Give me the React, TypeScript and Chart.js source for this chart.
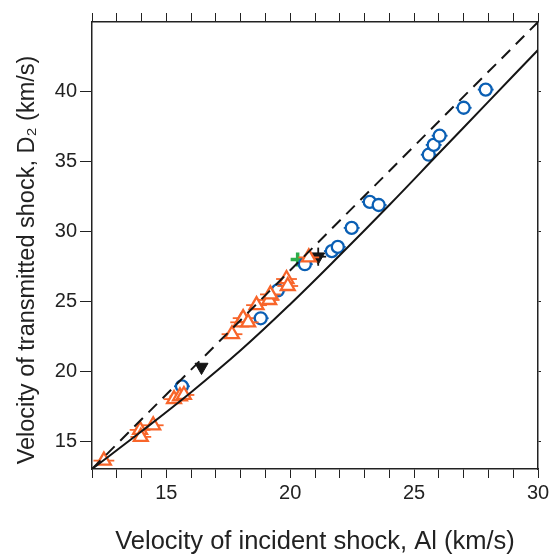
import React, { useEffect, useRef } from 'react';
import { Chart, registerables } from 'chart.js';

Chart.register(...registerables);

// Axis ranges and tick labels
const X_MIN = 12;
const X_MAX = 30;
const Y_MIN = 13;
const Y_MAX = 45;
const xLabelTicks = [15, 20, 25, 30];
const yLabelTicks = [15, 20, 25, 30, 35, 40];

const X_TITLE = 'Velocity of incident shock, Al (km/s)';
const Y_TITLE = 'Velocity of transmitted shock, D\u2082 (km/s)';

// Solid model curve
const solidX = [12, 14, 16, 18, 20, 22, 24, 26, 28, 30];
const solidY = [13.0, 15.7, 18.5, 21.5, 24.8, 28.3, 31.9, 35.6, 39.3, 43.0];

// Dashed straight line
const dashedX = [12, 30];
const dashedY = [13, 45];

// Blue open circles
const blueX = [15.63, 18.81, 19.5, 20.59, 21.68, 21.92, 22.48, 23.21, 23.57, 25.59, 25.79, 26.03, 27.0, 27.89];
const blueY = [18.92, 23.79, 25.79, 27.66, 28.6, 28.9, 30.26, 32.12, 31.9, 35.5, 36.2, 36.86, 38.86, 40.16];
const blueXErr = [0.32, 0.32, 0.32, 0.32, 0.32, 0.32, 0.32, 0.32, 0.32, 0.32, 0.32, 0.32, 0.32, 0.32];

// Orange open triangles
const orangeX = [12.48, 13.94, 13.97, 14.47, 15.31, 15.55, 15.71, 17.65, 18.0, 18.1, 18.3, 18.64, 19.15, 19.2, 19.85, 19.9, 20.75];
const orangeY = [13.6, 15.8, 15.3, 16.13, 18.0, 18.2, 18.3, 22.65, 23.5, 23.8, 23.5, 24.73, 25.1, 25.5, 26.6, 26.1, 28.15];
const orangeXErr = [0.42, 0.42, 0.42, 0.42, 0.42, 0.42, 0.42, 0.42, 0.42, 0.42, 0.42, 0.42, 0.42, 0.42, 0.42, 0.42, 0.42];

// Green cross
const greenX = [20.3];
const greenY = [28.0];

// Black filled down-triangles
const blackX = [16.42, 21.13];
const blackY = [20.3, 28.2];
const blackXErr = [0.15, 0.32];
const blackYErr = [0.2, 0.65];

const FONT = "'Liberation Sans', Arial, Helvetica, sans-serif";
const TEXT = '#222';
const AXIS = '#222';

const pts = (xs: number[], ys: number[]) => xs.map((x, i) => ({ x, y: ys[i] }));

const errorBarPlugin = {
  id: 'errorBars',
  beforeDatasetDraw(chart: any, args: any) {
    const ds = chart.data.datasets[args.index];
    if (!ds.xErr && !ds.yErr) return;
    const xs = chart.scales.x;
    const ys = chart.scales.y;
    const ctx = chart.ctx;
    ctx.save();
    ctx.strokeStyle = ds.borderColor;
    ctx.lineWidth = ds.errWidth || 1.8;
    ds.data.forEach((p: any, i: number) => {
      const px = xs.getPixelForValue(p.x);
      const py = ys.getPixelForValue(p.y);
      if (ds.xErr) {
        const e = ds.xErr[i];
        ctx.beginPath();
        ctx.moveTo(xs.getPixelForValue(p.x - e), py);
        ctx.lineTo(xs.getPixelForValue(p.x + e), py);
        ctx.stroke();
      }
      if (ds.yErr) {
        const e = ds.yErr[i];
        ctx.beginPath();
        ctx.moveTo(px, ys.getPixelForValue(p.y - e));
        ctx.lineTo(px, ys.getPixelForValue(p.y + e));
        ctx.stroke();
      }
    });
    ctx.restore();
  },
};

// Rotated y-axis title, centred where the original places it
const yTitlePlugin = {
  id: 'yTitle',
  afterDraw(chart: any) {
    const ctx = chart.ctx;
    ctx.save();
    ctx.translate(28, 260);
    ctx.rotate(-Math.PI / 2);
    ctx.font = `23.5px ${FONT}`;
    ctx.fillStyle = TEXT;
    ctx.textAlign = 'center';
    ctx.textBaseline = 'middle';
    ctx.fillText(Y_TITLE, 0, 0);
    ctx.restore();
  },
};

export default function App() {
  const ref = useRef<HTMLCanvasElement | null>(null);

  useEffect(() => {
    if (!ref.current) return;
    const gridCommon = {
      drawOnChartArea: false,
      drawTicks: true,
      color: AXIS,
      lineWidth: 1,
    };
    const chart = new Chart(ref.current, {
      type: 'scatter',
      data: {
        datasets: [
          {
            type: 'line',
            data: pts(solidX, solidY),
            borderColor: '#151515',
            borderWidth: 2,
            pointRadius: 0,
            tension: 0.4,
            fill: false,
          } as any,
          {
            type: 'line',
            data: pts(dashedX, dashedY),
            borderColor: '#151515',
            borderWidth: 2,
            borderDash: [12, 8],
            pointRadius: 0,
            fill: false,
          } as any,
          {
            data: pts(orangeX, orangeY),
            xErr: orangeXErr,
            pointStyle: 'triangle',
            pointRadius: 8,
            borderWidth: 2.3,
            borderColor: '#f8652a',
            backgroundColor: '#ffffff',
          } as any,
          {
            data: pts(blueX, blueY),
            xErr: blueXErr,
            pointStyle: 'circle',
            pointRadius: 6,
            borderWidth: 2.3,
            borderColor: '#0a5fb4',
            backgroundColor: '#ffffff',
          } as any,
          {
            data: pts(greenX, greenY),
            pointStyle: 'cross',
            pointRadius: 7,
            borderWidth: 3.5,
            borderColor: '#2cae4a',
            backgroundColor: '#2cae4a',
          } as any,
          {
            data: pts(blackX, blackY),
            xErr: blackXErr,
            yErr: blackYErr,
            pointStyle: 'triangle',
            rotation: 180,
            pointRadius: 7.5,
            borderWidth: 1,
            borderColor: '#151515',
            backgroundColor: '#151515',
          } as any,
        ],
      },
      options: {
        animation: false,
        responsive: false,
        devicePixelRatio: 1,
        layout: { padding: 0 },
        plugins: {
          legend: { display: false },
          tooltip: { enabled: false },
        },
        scales: {
          x: {
            type: 'linear',
            position: 'bottom',
            min: X_MIN,
            max: X_MAX,
            afterFit: (s: any) => { s.height = 88; },
            afterBuildTicks: (s: any) => {
              const t = [];
              for (let v = X_MIN; v <= X_MAX; v++) t.push({ value: v });
              s.ticks = t;
            },
            grid: { ...gridCommon, tickLength: 9 },
            border: { display: true, color: AXIS, width: 1.5 },
            ticks: {
              autoSkip: false,
              maxRotation: 0,
              padding: 3,
              color: TEXT,
              font: { family: FONT, size: 20 },
              callback: (v: any) => (xLabelTicks.includes(Number(v)) ? String(v) : ''),
            },
            title: {
              display: true,
              text: X_TITLE,
              color: TEXT,
              font: { family: FONT, size: 25.5 },
              padding: { top: 0, bottom: 0 },
            },
          },
          x2: {
            type: 'linear',
            position: 'top',
            min: X_MIN,
            max: X_MAX,
            afterFit: (s: any) => { s.height = 22; },
            afterBuildTicks: (s: any) => {
              const t = [];
              for (let v = X_MIN; v <= X_MAX; v++) t.push({ value: v });
              s.ticks = t;
            },
            grid: { ...gridCommon, tickLength: 9 },
            border: { display: true, color: AXIS, width: 1.5 },
            ticks: { display: false },
          },
          y: {
            type: 'linear',
            position: 'left',
            min: Y_MIN,
            max: Y_MAX,
            afterFit: (s: any) => { s.width = 92; },
            afterBuildTicks: (s: any) => {
              s.ticks = yLabelTicks.map((v) => ({ value: v }));
            },
            grid: { ...gridCommon, tickLength: 12 },
            border: { display: true, color: AXIS, width: 1.5 },
            ticks: {
              padding: 3,
              color: TEXT,
              font: { family: FONT, size: 20 },
            },
            title: { display: false },
          },
          y2: {
            type: 'linear',
            position: 'right',
            min: Y_MIN,
            max: Y_MAX,
            afterFit: (s: any) => { s.width = 15; },
            afterBuildTicks: (s: any) => {
              s.ticks = yLabelTicks.map((v) => ({ value: v }));
            },
            grid: { ...gridCommon, tickLength: 3 },
            border: { display: true, color: AXIS, width: 1.5 },
            ticks: { display: false },
          },
        },
      },
      plugins: [errorBarPlugin, yTitlePlugin],
    } as any);
    return () => chart.destroy();
  }, []);

  return (
    <div style={{ position: 'fixed', left: 0, top: 0, width: 553, height: 557, background: '#fff' }}>
      <canvas ref={ref} width={553} height={557} />
    </div>
  );
}
